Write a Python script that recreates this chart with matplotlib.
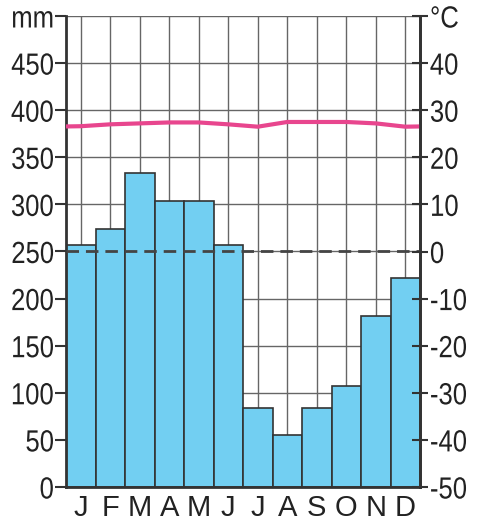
import numpy as np
import matplotlib.pyplot as plt
import matplotlib.patheffects as pe
from matplotlib.path import Path
from matplotlib.transforms import Affine2D

months = ['J', 'F', 'M', 'A', 'M', 'J', 'J', 'A', 'S', 'O', 'N', 'D']
precip = [257, 274, 333, 304, 304, 257, 84, 55, 84, 107, 181, 222]
temp = [26.6, 27.0, 27.2, 27.4, 27.4, 27.0, 26.5, 27.5, 27.5, 27.5, 27.2, 26.5]
mm_ticks = [0, 50, 100, 150, 200, 250, 300, 350, 400, 450, 500]
mm_labels = ['0', '50', '100', '150', '200', '250', '300', '350', '400', '450', 'mm']
c_ticks = [-50, -40, -30, -20, -10, 0, 10, 20, 30, 40, 50]
c_labels = ['-50', '-40', '-30', '-20', '-10', '0', '10', '20', '30', '40', '°C']

plt.rcParams['font.family'] = ['Liberation Sans', 'DejaVu Sans']


# the axis numbers in the original are set in a narrow face: squeeze the glyphs sideways
class Squeeze(pe.AbstractPathEffect):
    def __init__(self, sx, anchor):
        super().__init__()
        self.sx = sx
        self.anchor = anchor

    def draw_path(self, renderer, gc, tpath, affine, rgbFace=None):
        v = tpath.vertices
        if tpath.codes is not None:
            v = v[tpath.codes != Path.CLOSEPOLY]
        xs = affine.transform(v)[:, 0] if len(v) else np.array([0.0])
        x0 = xs.max() if self.anchor == 'right' else xs.min()
        t = affine + Affine2D().translate(-x0, 0).scale(self.sx, 1).translate(x0, 0)
        renderer.draw_path(gc, tpath, t, rgbFace)


fig = plt.figure(figsize=(4.8, 5.32), dpi=100)
ax = fig.add_axes([66/480, 1-487/532, 354/480, 471/532])
x = np.arange(12)

ax.set_axisbelow(True)
ax.grid(True, color='#666666', linewidth=1)
ax.bar(x, precip, width=1.0, color='#72CFF2', edgecolor='#333333', linewidth=1.2, zorder=2)
ax.axhline(250, color='#444444', linestyle=(0, (4.5, 2.5)), linewidth=2, zorder=3)

ax.set_xlim(-0.5, 11.5)
ax.set_ylim(0, 500)
ax.set_xticks(x)
ax.set_xticklabels(months, fontsize=21, color='#222222')
ax.tick_params(axis='x', length=0, pad=5)
ax.set_yticks(mm_ticks)
ax.set_yticklabels(mm_labels, fontsize=22, color='#222222')
ax.tick_params(axis='y', direction='out', length=8, width=1.5, color='#333333', pad=0.5)
for lab in ax.get_yticklabels():
    lab.set_path_effects([Squeeze(0.84, 'right')])

ax.spines['top'].set_visible(False)
for s in ['left', 'right', 'bottom']:
    ax.spines[s].set_linewidth(2)
    ax.spines[s].set_color('#333333')

ax2 = ax.twinx()
ax2.set_ylim(-50, 50)
ax2.set_yticks(c_ticks)
ax2.set_yticklabels(c_labels, fontsize=22, color='#222222')
ax2.tick_params(axis='y', direction='inout', length=12, width=1.5, color='#333333', pad=1)
for lab in ax2.get_yticklabels():
    lab.set_path_effects([Squeeze(0.84, 'left')])
for s in ['top', 'left', 'bottom']:
    ax2.spines[s].set_visible(False)
ax2.spines['right'].set_linewidth(2)
ax2.spines['right'].set_color('#333333')

edge = (temp[0] + temp[-1]) / 2
tx = np.concatenate([[-0.5], x, [11.5]])
ty = np.concatenate([[edge], temp, [edge]])
ax2.plot(tx, ty, color='#E8468E', linewidth=3, solid_capstyle='butt')

fig.savefig('out.png', dpi=100)
